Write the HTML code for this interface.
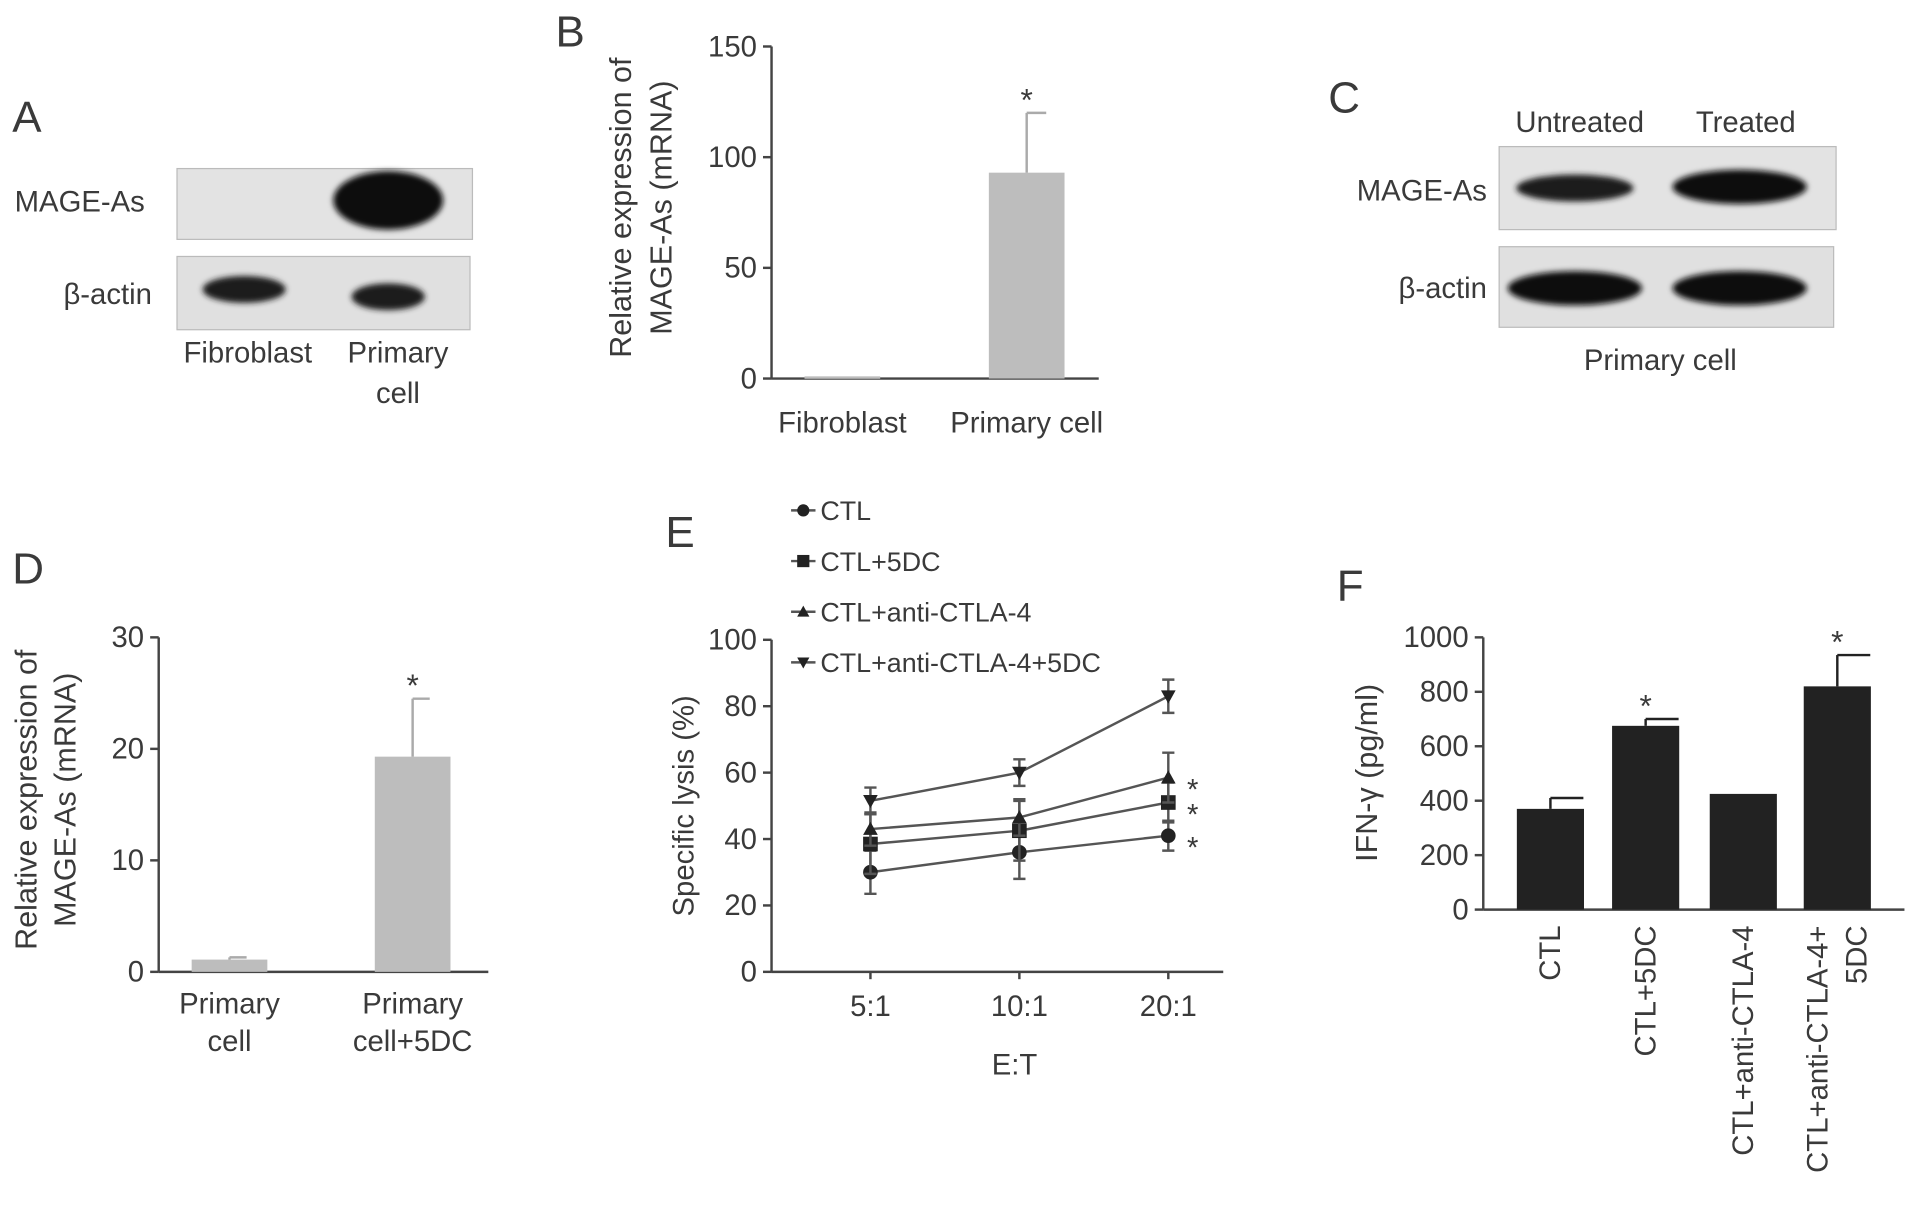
<!DOCTYPE html>
<html><head><meta charset="utf-8">
<style>
html,body{margin:0;padding:0;background:#fff;}
svg{display:block;font-family:"Liberation Sans",sans-serif;}
text{fill:#3a3a3a;}
</style></head>
<body>
<svg id="fig" width="1913" height="1221" viewBox="0 0 1567 1000">
<defs>
<filter id="blur" x="-20%" y="-50%" width="140%" height="200%"><feGaussianBlur stdDeviation="2.5"/></filter>
</defs>
<!-- Panel A -->
<g>
<text x="10" y="108" font-size="36">A</text>
<rect x="145" y="138" width="242" height="58" fill="#e3e3e3" stroke="#bbb"/>
<ellipse cx="318" cy="164" rx="45" ry="24" fill="#111" filter="url(#blur)"/>
<rect x="145" y="210" width="240" height="60" fill="#e0e0e0" stroke="#bbb"/>
<ellipse cx="200" cy="237" rx="34" ry="11" fill="#1a1a1a" filter="url(#blur)"/>
<ellipse cx="318" cy="243" rx="30" ry="11" fill="#1a1a1a" filter="url(#blur)"/>
<text x="12" y="173" font-size="24">MAGE-As</text>
<text x="52" y="249" font-size="24">β-actin</text>
<text x="203" y="297" font-size="24" text-anchor="middle">Fibroblast</text>
<text x="326" y="297" font-size="24" text-anchor="middle">Primary</text>
<text x="326" y="330" font-size="24" text-anchor="middle">cell</text>
</g>
<!-- Panel C -->
<g>
<text x="1088" y="92" font-size="36">C</text>
<text x="1294" y="108" font-size="24" text-anchor="middle">Untreated</text>
<text x="1430" y="108" font-size="24" text-anchor="middle">Treated</text>
<rect x="1228" y="120" width="276" height="68" fill="#e3e3e3" stroke="#bbb"/>
<ellipse cx="1290" cy="154" rx="48" ry="11" fill="#1a1a1a" filter="url(#blur)"/>
<ellipse cx="1425" cy="153" rx="55" ry="14" fill="#111" filter="url(#blur)"/>
<rect x="1228" y="202" width="274" height="66" fill="#e0e0e0" stroke="#bbb"/>
<ellipse cx="1290" cy="236" rx="55" ry="14" fill="#111" filter="url(#blur)"/>
<ellipse cx="1425" cy="236" rx="55" ry="14" fill="#111" filter="url(#blur)"/>
<text x="1218" y="164" font-size="24" text-anchor="end">MAGE-As</text>
<text x="1218" y="244" font-size="24" text-anchor="end">β-actin</text>
<text x="1360" y="303" font-size="24" text-anchor="middle">Primary cell</text>
</g>
<text x="455" y="38" font-size="36">B</text>
<text x="10" y="478" font-size="36">D</text>
<text x="545" y="448" font-size="36">E</text>
<text x="1095" y="492" font-size="36">F</text>
<g id="charts"></g>
</svg>
<script>
// Panel B data
const bCategories = ["Fibroblast", "Primary cell"];
const bValues = [1, 93];
const bErrors = [0, 27];
const bTicks = [0, 50, 100, 150];
// Panel D data
const dCategories = [["Primary","cell"], ["Primary","cell+5DC"]];
const dValues = [1.1, 19.3];
const dErrors = [0.2, 5.2];
const dTicks = [0, 10, 20, 30];
// Panel E data
const eCategories = ["5:1", "10:1", "20:1"];
const eSeriesNames = ["CTL", "CTL+5DC", "CTL+anti-CTLA-4", "CTL+anti-CTLA-4+5DC"];
const eCTL = [30, 36, 41];
const eCTLErr = [6.5, 8, 4.5];
const e5DC = [38.5, 42.5, 51];
const e5DCErr = [9, 9, 6];
const eAnti = [43, 46.5, 58.5];
const eAntiErr = [5, 5.5, 7.5];
const eCombo = [51.5, 60, 83];
const eComboErr = [4, 4, 5];
const eTicks = [0, 20, 40, 60, 80, 100];
// Panel F data
const fCategories = [["CTL"], ["CTL+5DC"], ["CTL+anti-CTLA-4"], ["CTL+anti-CTLA-4+","5DC"]];
const fValues = [370, 675, 425, 820];
const fErrors = [40, 25, 0, 115];
const fTicks = [0, 200, 400, 600, 800, 1000];

const NS = "http://www.w3.org/2000/svg";
const root = document.getElementById('charts');
function mk(tag, attrs, parent, txt) {
  const e = document.createElementNS(NS, tag);
  for (const k in attrs) e.setAttribute(k, attrs[k]);
  if (txt !== undefined) e.textContent = txt;
  (parent || root).appendChild(e);
  return e;
}
const STROKE = "#444";

function axisY(g, x, y0, y1, ticks, max, fs, namePrefix) {
  const sy = v => y0 - (v / max) * (y0 - y1);
  const ax = mk('line', {x1:x, y1:y0, x2:x, y2:y1, stroke:STROKE, 'stroke-width':2}, g);
  
  
  ticks.forEach(t => {
    const tk = mk('line', {x1:x-7, y1:sy(t), x2:x, y2:sy(t), stroke:STROKE, 'stroke-width':2}, g);
    
    
    const tl = mk('text', {x:x-12, y:sy(t)+8, 'font-size':fs, 'text-anchor':'end'}, g, String(t));
    
    
  });
  return sy;
}

function barChart(cfg) {
  const g = mk('g', {});
  
  
  const sy = axisY(g, cfg.x, cfg.y0, cfg.y1, cfg.ticks, cfg.max, 24, cfg.name);
  const base = mk('line', {x1:cfg.x, y1:cfg.y0, x2:cfg.xEnd, y2:cfg.y0, stroke:STROKE, 'stroke-width':2}, g);
  
  
  cfg.values.forEach((v, i) => {
    const cx = cfg.centers[i];
    const top = sy(v);
    const b = mk('rect', {x:cx-cfg.bw/2, y:top, width:cfg.bw, height:Math.max(cfg.y0-top, 2), fill:cfg.fill}, g);
    
    
    if (cfg.errors[i] > 0) {
      const et = sy(v + cfg.errors[i]);
      const el = mk('line', {x1:cx, y1:top, x2:cx, y2:et, stroke:cfg.errColor, 'stroke-width':2}, g);
      
      
      const cap = mk('line', {x1:cx, y1:et, x2:cx+cfg.cap, y2:et, stroke:cfg.errColor, 'stroke-width':2}, g);
      
      
    }
    if (cfg.stars[i]) {
      const st = mk('text', {x:cx, y:sy(v + cfg.errors[i]) - 2, 'font-size':26, 'text-anchor':'middle'}, g, '*');
      
      
    }
    cfg.label(g, cfg.categories[i], cx, i);
  });
  cfg.title.forEach((t, j) => {
    const tt = mk('text', {x:0, y:0, 'font-size':25, 'text-anchor':'middle', transform:`translate(${cfg.titleX[j]},${cfg.titleY}) rotate(-90)`}, g, t);
    
    
  });
}

barChart({name:'chart-b', x:632, y0:310, y1:38, xEnd:900, max:150, ticks:bTicks, values:bValues, errors:bErrors,
  centers:[690, 841], bw:62, cap:16, fill:'#bdbdbd', errColor:'#aaa', stars:[false, true], categories:bCategories,
  title:["Relative expression of", "MAGE-As (mRNA)"], titleX:[517, 550], titleY:170,
  label:(g, c, cx) => { const t = mk('text', {x:cx, y:354, 'font-size':24, 'text-anchor':'middle'}, g, c);
      }});

barChart({name:'chart-d', x:130, y0:796, y1:522, xEnd:400, max:30, ticks:dTicks, values:dValues, errors:dErrors,
  centers:[188, 338], bw:62, cap:14, fill:'#bdbdbd', errColor:'#aaa', stars:[false, true], categories:dCategories,
  title:["Relative expression of", "MAGE-As (mRNA)"], titleX:[30, 62], titleY:655,
  label:(g, c, cx) => c.forEach((s, j) => { const t = mk('text', {x:cx, y:830+j*31, 'font-size':24, 'text-anchor':'middle'}, g, s);
      })});

barChart({name:'chart-f', x:1215, y0:745, y1:522, xEnd:1560, max:1000, ticks:fTicks, values:fValues, errors:fErrors,
  centers:[1270, 1348, 1428, 1505], bw:55, cap:27, fill:'#222', errColor:'#222', stars:[false, true, false, true], categories:fCategories,
  title:["IFN-γ (pg/ml)"], titleX:[1128], titleY:633,
  label:(g, c, cx) => c.forEach((s, j) => {
    const off = c.length === 1 ? 8 : (j === 0 ? -8 : 24);
    const t = mk('text', {x:0, y:0, 'font-size':24, 'text-anchor':'end', transform:`translate(${cx+off},758) rotate(-90)`}, g, s);
      })});

// Panel E line chart
(function(){
  const g = mk('g', {});
  
  
  const y0 = 796, y1 = 524;
  const sy = axisY(g, 632, y0, y1, eTicks, 100, 24, 'chart-e');
  const xs = [713, 835, 957];
  const sx = i => xs[i];
  const base = mk('line', {x1:632, y1:y0, x2:1002, y2:y0, stroke:STROKE, 'stroke-width':2}, g);
  
  
  eCategories.forEach((c, i) => {
    const tk = mk('line', {x1:sx(i), y1:y0, x2:sx(i), y2:y0+6, stroke:STROKE, 'stroke-width':2}, g);
    
    
    const t = mk('text', {x:sx(i), y:832, 'font-size':24, 'text-anchor':'middle'}, g, c);
    
    
  });
  const xt = mk('text', {x:831, y:880, 'font-size':24, 'text-anchor':'middle'}, g, 'E:T');
  
  
  const yt = mk('text', {x:0, y:0, 'font-size':24, 'text-anchor':'middle', transform:'translate(568,660) rotate(-90)'}, g, 'Specific lysis (%)');
  
  
  const series = [[eCTL, eCTLErr, 'circle'], [e5DC, e5DCErr, 'square'], [eAnti, eAntiErr, 'tri'], [eCombo, eComboErr, 'tridown']];
  function marker(shape, x, y, r, parent) {
    let m;
    if (shape === 'circle') m = mk('circle', {cx:x, cy:y, r:r, fill:'#222'}, parent);
    else if (shape === 'square') m = mk('rect', {x:x-r, y:y-r, width:2*r, height:2*r, fill:'#222'}, parent);
    else if (shape === 'tri') m = mk('polygon', {points:`${x},${y-r} ${x-r},${y+r*0.8} ${x+r},${y+r*0.8}`, fill:'#222'}, parent);
    else m = mk('polygon', {points:`${x},${y+r} ${x-r},${y-r*0.8} ${x+r},${y-r*0.8}`, fill:'#222'}, parent);
    return m;
  }
  series.forEach((s, si) => {
    const [vals, errs, shape] = s;
    const pts = vals.map((v, i) => `${sx(i)},${sy(v)}`).join(' ');
    const pl = mk('polyline', {points:pts, fill:'none', stroke:'#555', 'stroke-width':2}, g);
    
    
    vals.forEach((v, i) => {
      const x = sx(i), e = errs[i];
      const el = mk('path', {d:`M${x},${sy(v-e)}V${sy(v+e)}M${x-5},${sy(v-e)}H${x+5}M${x-5},${sy(v+e)}H${x+5}`, stroke:'#555', 'stroke-width':2, fill:'none'}, g);
      
      
      const m = marker(shape, x, sy(v), 6, g);
      
      
    });
    const ly = 418 + si * 41.5;
    const ll = mk('line', {x1:648, y1:ly, x2:668, y2:ly, stroke:'#555', 'stroke-width':2}, g);
    
    
    const lm = marker(shape, 658, ly, 5, g);
    
    
    const lt = mk('text', {x:672, y:ly+8, 'font-size':22}, g, eSeriesNames[si]);
    
    
    if (si < 3) {
      const st = mk('text', {x:977, y:sy(vals[2]) + 18, 'font-size':24, 'text-anchor':'middle'}, g, '*');
      
      
    }
  });
})();
</script>
</body></html>
